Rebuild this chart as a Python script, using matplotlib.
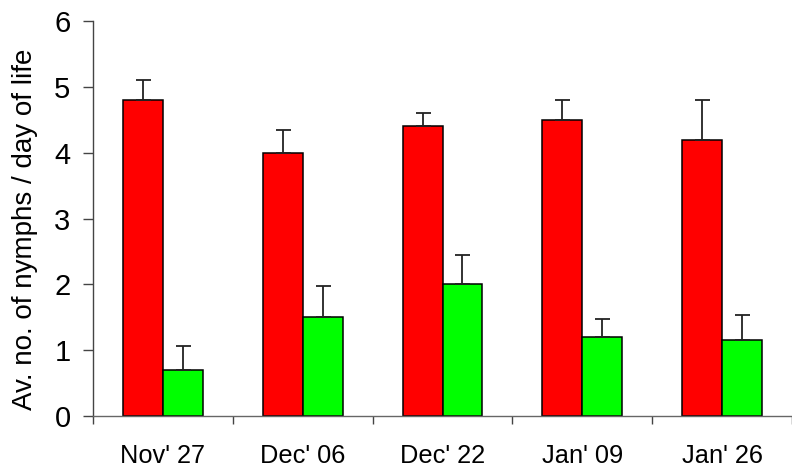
import matplotlib
matplotlib.use("Agg")
import matplotlib.pyplot as plt
import numpy as np

categories = ["Nov' 27", "Dec' 06", "Dec' 22", "Jan' 09", "Jan' 26"]
red_values = [4.8, 4.0, 4.4, 4.5, 4.2]
red_errors = [0.30, 0.35, 0.20, 0.30, 0.60]
green_values = [0.70, 1.50, 2.00, 1.20, 1.15]
green_errors = [0.37, 0.47, 0.45, 0.28, 0.38]
y_ticks = [0, 1, 2, 3, 4, 5, 6]
y_label = "Av. no. of nymphs / day of life"

plt.rcParams['font.family'] = ['Liberation Sans', 'DejaVu Sans']

fig = plt.figure(figsize=(7.92, 4.76), dpi=100)
ax = fig.add_axes([93/792, 1-416/476, 1-93/792, (416-21)/476])

x = np.arange(len(categories))
w = 0.285
err_kw = dict(ecolor='#222222', elinewidth=1.3, capsize=5.4, capthick=1.3)
ax.bar(x - w/2, red_values, w, color='#ff0000', edgecolor='black', linewidth=1.1,
       yerr=[np.zeros(len(red_values)), red_errors], error_kw=err_kw, zorder=2)
ax.bar(x + w/2, green_values, w, color='#00ff00', edgecolor='black', linewidth=1.1,
       yerr=[np.zeros(len(green_values)), green_errors], error_kw=err_kw, zorder=2)

ax.set_xlim(-0.5, -0.5 + (792-93)/141)
ax.set_ylim(0, 6)
ax.set_yticks(y_ticks)
ax.set_yticklabels([str(t) for t in y_ticks], fontsize=21)
ax.set_xticks(x)
ax.set_xticklabels(categories, fontsize=18.3)
ax.set_xticks(np.arange(-0.5, len(categories), 1.0), minor=True)
ax.tick_params(axis='x', which='major', length=0, pad=20)
ax.tick_params(axis='x', which='minor', length=5.8, width=1, color='#444444', direction='out')
ax.tick_params(axis='y', length=7.2, width=1, color='#444444', direction='out', pad=9)
ax.set_ylabel(y_label, fontsize=20)
ax.yaxis.set_label_coords((38.3-93)/699, (416-229.5)/395)

for s in ['top', 'right']:
    ax.spines[s].set_visible(False)
ax.spines['left'].set_color('#444444')
ax.spines['bottom'].set_color('#666666')
ax.spines['left'].set_linewidth(1)
ax.spines['bottom'].set_linewidth(1)
ax.spines['left'].set_bounds(0, 6)

fig.savefig("out.png", dpi=100)
